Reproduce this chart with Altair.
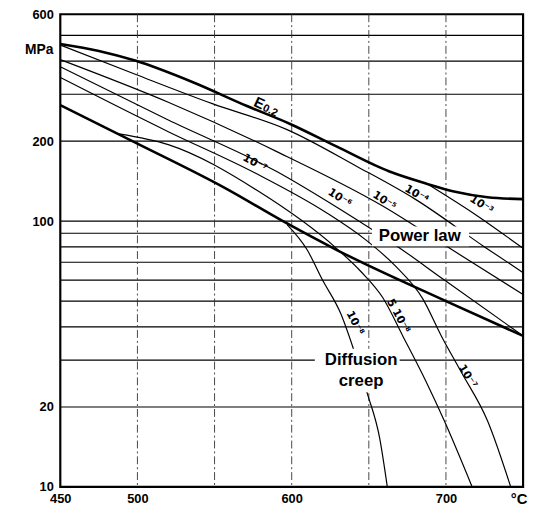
import altair as alt
import pandas as pd

# ---------------- data (temperature °C, stress MPa) ----------------
e02_T = [450, 475, 499, 536, 571, 599, 629, 663, 688, 706, 727, 750]
e02_S = [464, 437, 401, 333, 271, 232, 191, 154, 138, 129, 123, 121]

bound_T = [450, 499, 556, 597, 629, 700, 750]
bound_S = [273, 197, 134, 98, 78, 50, 37]

r3_T = [688, 719, 750]
r3_S = [138, 106, 79]
r4_T = [450, 499, 549, 597, 642, 680, 725, 750]
r4_S = [460, 356, 276, 221, 161, 121, 80, 64]
r5_T = [450, 520, 590, 659, 704, 750]
r5_S = [405, 280, 183, 114, 78, 53]
r6_T = [450, 520, 590, 629, 669, 699, 750]
r6_S = [381, 240, 154, 113, 80, 60, 37]
r7_T = [450, 520, 576, 622, 648, 667, 685, 697, 710, 727, 742]
r7_S = [347, 217, 152, 108, 85, 68, 51, 37, 27, 17.7, 10]
r58_T = [488, 520, 578, 629, 645, 659, 672, 687, 699, 717]
r58_S = [213, 194, 130, 79, 64.5, 51.6, 37, 25, 17.7, 10]
r8_T = [597, 610, 620, 632, 640, 649, 657, 662]
r8_S = [97, 78, 60, 44.6, 33.1, 22.5, 15.3, 10]

hgrid_S = [20, 30, 40, 50, 60, 70, 80, 90, 100, 200, 300, 400, 500]
vgrid_T = [500, 550, 600, 650, 700]
x_ticks = [450, 500, 600, 700]
y_ticks = [10, 20, 100, 200, 600]

rate_text = ["10⁻³", "10⁻⁴", "10⁻⁵", "10⁻⁶", "10⁻⁷", "10⁻⁸", "5 10⁻⁸", "10⁻⁷"]
rate_T = [723, 681, 660, 631, 576, 641, 669, 714]
rate_S = [115, 126, 119, 122, 165, 41.3, 43.9, 26]
rate_ang = [33, 30, 33, 33, 30, 62, 62, 58]

region_text = ["Power law", "Diffusion", "creep"]
region_T = [683, 645, 645]
region_S = [87.7, 29.9, 25.0]

mask_T1 = [652, 615]
mask_T2 = [715, 670]
mask_S1 = [80.5, 22.7]
mask_S2 = [95.5, 33.1]

# ---------------- tables ----------------
def curve_rows(name, T, S, kind):
    return [{"curve": name, "i": i, "T": t, "S": s, "kind": kind}
            for i, (t, s) in enumerate(zip(T, S))]

rows = []
rows += curve_rows("E0.2", e02_T, e02_S, "thick")
rows += curve_rows("boundary", bound_T, bound_S, "thick")
rows += curve_rows("1e-3", r3_T, r3_S, "thin")
rows += curve_rows("1e-4", r4_T, r4_S, "thin")
rows += curve_rows("1e-5", r5_T, r5_S, "thin")
rows += curve_rows("1e-6", r6_T, r6_S, "thin")
rows += curve_rows("1e-7", r7_T, r7_S, "thin")
rows += curve_rows("5e-8", r58_T, r58_S, "thin")
rows += curve_rows("1e-8", r8_T, r8_S, "thin")
lines = pd.DataFrame(rows)

xs = alt.Scale(domain=[450, 750], nice=False, zero=False)
ys = alt.Scale(type="log", domain=[10, 600], nice=False)

FONT = "Liberation Sans"

x_axis = alt.Axis(values=x_ticks, grid=False, ticks=False, domain=False,
                  labelFont=FONT, labelFontWeight="bold", labelFontSize=13,
                  labelColor="black", labelPadding=6, labelFlush=False)
y_axis = alt.Axis(values=y_ticks, grid=False, ticks=False, domain=False,
                  labelFont=FONT, labelFontWeight="bold", labelFontSize=13,
                  labelColor="black", labelPadding=7)


def X(field):
    return alt.X(field, type="quantitative", scale=xs, axis=x_axis, title="")


def Y(field):
    return alt.Y(field, type="quantitative", scale=ys, axis=y_axis, title="")


hgrid = alt.Chart(pd.DataFrame({"S": hgrid_S})).mark_rule(
    color="black", strokeWidth=1.1
).encode(y=Y("S"))

vgrid = alt.Chart(pd.DataFrame({"T": vgrid_T})).mark_rule(
    color="#333333", strokeWidth=0.9, strokeDash=[8, 3, 2, 3]
).encode(x=X("T"))

thin = alt.Chart(lines).transform_filter(alt.datum.kind == "thin").mark_line(
    color="black", strokeWidth=1.2, interpolate="monotone"
).encode(x=X("T"), y=Y("S"), detail="curve:N", order="i:Q")

thick = alt.Chart(lines).transform_filter(alt.datum.kind == "thick").mark_line(
    color="black", strokeWidth=2.6, interpolate="monotone"
).encode(x=X("T"), y=Y("S"), detail="curve:N", order="i:Q")

masks = alt.Chart(pd.DataFrame({"T1": mask_T1, "T2": mask_T2,
                                "S1": mask_S1, "S2": mask_S2})).mark_rect(
    color="white"
).encode(x=X("T1"), x2="T2:Q", y=Y("S1"), y2="S2:Q")

region = alt.Chart(pd.DataFrame({"txt": region_text, "T": region_T,
                                 "S": region_S})).mark_text(
    font=FONT, fontWeight="bold", fontSize=17, color="black",
    align="center", baseline="middle"
).encode(x=X("T"), y=Y("S"), text="txt:N")

rates = alt.Chart(pd.DataFrame({"txt": rate_text, "T": rate_T, "S": rate_S,
                                "ang": rate_ang})).mark_text(
    font="DejaVu Sans", fontWeight="bold", fontSize=11, color="black",
    align="center", baseline="middle"
).encode(x=X("T"), y=Y("S"), text="txt:N",
         angle=alt.Angle("ang:Q", scale=None))

e_big = alt.Chart(pd.DataFrame({"txt": ["E"], "T": [579], "S": [278]})).mark_text(
    font=FONT, fontWeight="bold", fontSize=15, color="black", angle=25,
    align="center", baseline="middle"
).encode(x=X("T"), y=Y("S"), text="txt:N")

e_sub = alt.Chart(pd.DataFrame({"txt": ["0.2"], "T": [586], "S": [260]})).mark_text(
    font=FONT, fontWeight="bold", fontSize=11, color="black", angle=25,
    align="center", baseline="middle"
).encode(x=X("T"), y=Y("S"), text="txt:N")

mpa = alt.Chart(pd.DataFrame({"txt": ["MPa"], "T": [450], "S": [441]})).mark_text(
    font=FONT, fontWeight="bold", fontSize=14, color="black",
    align="right", baseline="middle", dx=-7
).encode(x=X("T"), y=Y("S"), text="txt:N")

degc = alt.Chart(pd.DataFrame({"txt": ["°C"], "T": [750], "S": [10]})).mark_text(
    font=FONT, fontWeight="bold", fontSize=15, color="black",
    align="center", baseline="top", dx=-4, dy=5
).encode(x=X("T"), y=Y("S"), text="txt:N")

chart = alt.layer(
    hgrid, vgrid, thin, thick, masks, region, rates, e_big, e_sub, mpa, degc
).properties(
    width=469, height=479,
    autosize=alt.AutoSizeParams(type="none"),
    padding={"left": 53, "top": 3, "right": 6, "bottom": 20},
).configure_view(stroke="black", strokeWidth=2.2)

chart.save("out.html", embed_options={"renderer": "svg", "actions": False})
